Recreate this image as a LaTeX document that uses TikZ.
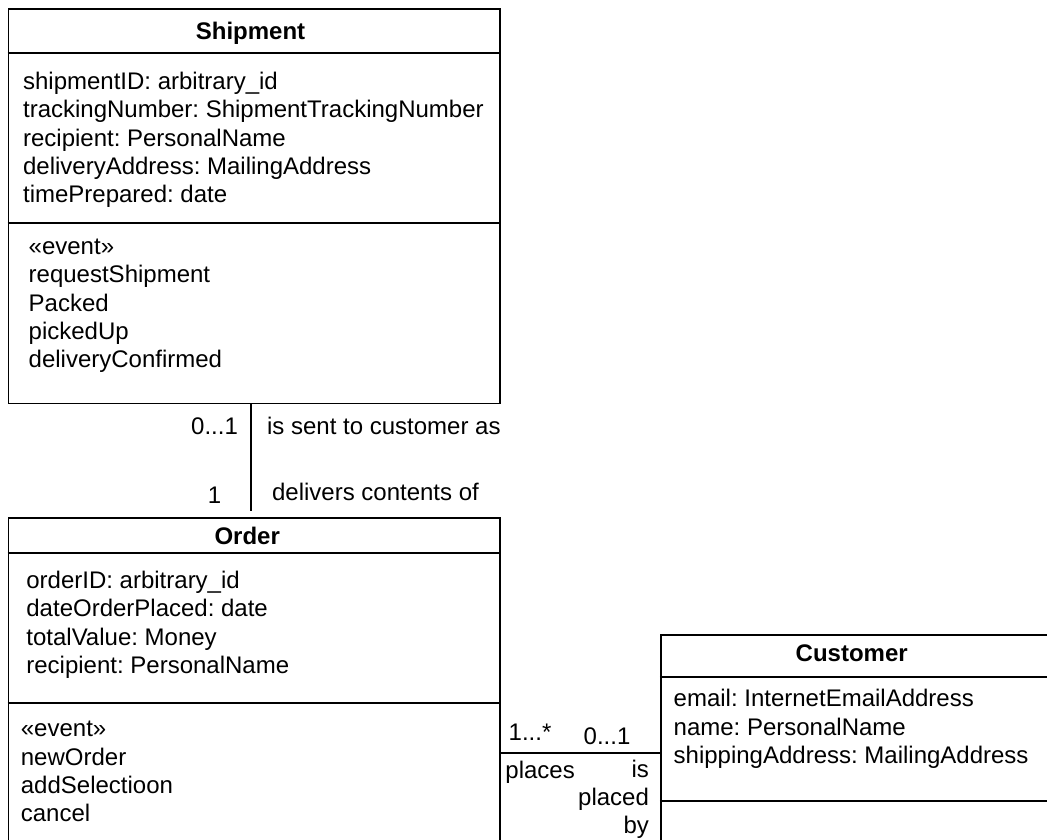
\documentclass[tikz,border=0pt]{standalone}
\usepackage{fontspec}
\setmainfont{Liberation Sans}
\usetikzlibrary{fit}
\frenchspacing

\begin{document}
\begin{tikzpicture}[x=0.5pt,y=-0.5pt,
  every node/.style={inner sep=0pt, font=\fontsize{12}{14}\selectfont},
  classbox/.style={draw, line width=0.9pt, inner sep=0pt},
  classname/.style={anchor=base, font=\fontsize{12}{14}\selectfont\bfseries},
  memb/.style={anchor=base west},
  assoc/.style={line width=0.9pt}]
  \useasboundingbox (0,0) rectangle (1047,839);
  \clip (0,0) rectangle (1047,839);

  % class boxes
  \node[classbox, fit={(8.5,9.3) (500,403.5)}] (shipment) {};
  \node[classbox, fit={(8.5,517.7) (500,880)}] (order) {};
  \node[classbox, fit={(660.7,635) (1080,880)}] (customer) {};
  \foreach \c/\y in {shipment/52.7, shipment/223, order/553.3, order/702.7, customer/676.7, customer/801}
    \draw[assoc] (\c.west |- 0,\y) -- (\c.east |- 0,\y);

  \node[classname] (shipment-name) at (250.5,40) {Shipment};
  \node[classname] (order-name) at (247.2,544) {Order};
  \node[classname] (customer-name) at (851.7,661.7) {Customer};

  % Shipment
  \foreach \t [count=\i from 0] in {shipmentID: arbitrary\_id, trackingNumber: ShipmentTrackingNumber, recipient: PersonalName, deliveryAddress: MailingAddress, timePrepared: date}
    \node[memb] (shipment-attr\i) at (22.7,{89.3+28.4*\i}) {\t};
  \foreach \t [count=\i from 0] in {«event», requestShipment, Packed, pickedUp, deliveryConfirmed}
    \node[memb] (shipment-op\i) at (28.3,{254.3+28.4*\i}) {\t};

  % Order
  \foreach \t [count=\i from 0] in {orderID: arbitrary\_id, dateOrderPlaced: date, totalValue: Money, recipient: PersonalName}
    \node[memb] (order-attr\i) at (26,{588.3+28.35*\i}) {\t};
  \foreach \t [count=\i from 0] in {«event», newOrder, addSelectioon, cancel}
    \node[memb] (order-op\i) at (20.5,{736.7+28.35*\i}) {\t};

  % Customer
  \foreach \t [count=\i from 0] in {email: InternetEmailAddress, name: PersonalName, shippingAddress: MailingAddress}
    \node[memb] (customer-attr\i) at (673.3,{706.7+28.3*\i}) {\t};

  % associations
  \draw[assoc] ([xshift=-1.6pt]shipment.south) -- ([xshift=-1.6pt,yshift=3pt]order.north);
  \node[anchor=base east] (ship-mult) at (238.3,434) {0...1};
  \node[anchor=base west] (ship-role) at (266.7,434) {is sent to customer as};
  \node[anchor=base east] (order-mult) at (221.7,503.3) {1};
  \node[anchor=base west] (order-role) at (271.7,500) {delivers contents of};

  \coordinate (places-y) at (0,753.3);
  \draw[assoc] (order.east |- places-y) -- (customer.west |- places-y);
  \node[anchor=base west] (places-mult) at (508.3,740.7) {1...*};
  \node[anchor=base west] (placed-mult) at (583.3,744) {0...1};
  \node[anchor=base west] (places-role) at (505,778) {places};
  \foreach \w [count=\i from 0] in {is, placed, by}
    \node[anchor=base east] (placedby\i) at (649.3,{777.3+28.3*\i}) {\w};
\end{tikzpicture}
\end{document}
